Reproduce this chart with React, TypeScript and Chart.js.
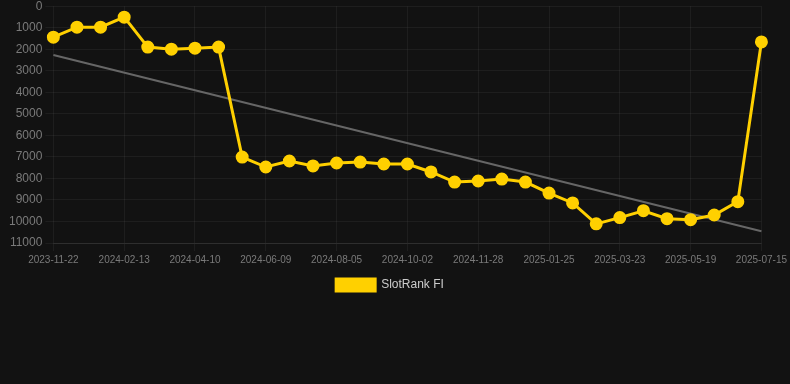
import React, { useEffect, useRef } from "react";
import { Chart, registerables } from "chart.js";

Chart.register(...registerables);

const dates = [
  "2023-11-22", "2023-12-20", "2024-01-17", "2024-02-13", "2024-03-03", "2024-03-22",
  "2024-04-10", "2024-04-30", "2024-05-20", "2024-06-09", "2024-06-28", "2024-07-17",
  "2024-08-05", "2024-08-24", "2024-09-13", "2024-10-02", "2024-10-21", "2024-11-09",
  "2024-11-28", "2024-12-17", "2025-01-05", "2025-01-25", "2025-02-13", "2025-03-04",
  "2025-03-23", "2025-04-11", "2025-04-30", "2025-05-19", "2025-06-07", "2025-06-26",
  "2025-07-15",
];

const rankFI = [
  1440, 975, 975, 510, 1900, 1995, 1950, 1900, 7010, 7470, 7190, 7420, 7285, 7240,
  7330, 7330, 7700, 8170, 8120, 8030, 8170, 8680, 9140, 10110, 9820, 9500, 9870,
  9915, 9700, 9080, 1660,
];

const trendStart = 2270;
const trendEnd = 10450;

export default function App() {
  const ref = useRef<HTMLCanvasElement | null>(null);
  useEffect(() => {
    document.body.style.margin = "0";
    document.body.style.background = "#121212";
    if (!ref.current) return;
    const trend = dates.map((_, i) =>
      i === 0 ? trendStart : i === dates.length - 1 ? trendEnd : null
    );
    const chart = new Chart(ref.current, {
      type: "line",
      data: {
        labels: dates,
        datasets: [
          {
            label: "SlotRank FI",
            data: rankFI,
            borderColor: "#FFD000",
            backgroundColor: "#FFD000",
            borderWidth: 3,
            pointRadius: 5,
            pointHoverRadius: 5,
            pointBackgroundColor: "#FFD000",
            pointBorderColor: "#FFD000",
            tension: 0,
            order: 1,
          },
          {
            label: "trend",
            data: trend as any,
            borderColor: "#666666",
            borderWidth: 2,
            pointRadius: 0,
            spanGaps: true,
            order: 2,
          },
        ],
      },
      options: {
        animation: false,
        responsive: false,
        maintainAspectRatio: false,
        layout: { padding: { top: 0, right: 16, left: 6, bottom: 0 } },
        plugins: {
          legend: {
            position: "bottom",
            labels: {
              color: "#cccccc",
              font: { size: 12 },
              boxWidth: 39,
              filter: (item) => item.text === "SlotRank FI",
            },
          },
          tooltip: { enabled: false },
        },
        scales: {
          x: {
            grid: { color: "rgba(255,255,255,0.05)" },
            border: { color: "rgba(255,255,255,0.08)" },
            ticks: {
              color: "#7a7a7a",
              font: { size: 10 },
              maxRotation: 0,
              autoSkip: false,
              callback: function (val: any, idx: number) {
                return idx % 3 === 0 ? dates[idx] : null;
              },
            },
          },
          y: {
            reverse: true,
            min: 0,
            max: 11000,
            grid: { color: "rgba(255,255,255,0.05)" },
            border: { display: false },
            ticks: {
              color: "#7a7a7a",
              font: { size: 12 },
              stepSize: 1000,
              callback: (v: any) => String(v),
            },
          },
        },
      },
    });
    return () => chart.destroy();
  }, []);
  return (
    <div style={{ position: "absolute", left: 0, top: 0, width: 790, height: 384, background: "#121212", overflow: "hidden" }}>
      <canvas ref={ref} width={790} height={305} style={{ display: "block", marginTop: -4 }} />
    </div>
  );
}
